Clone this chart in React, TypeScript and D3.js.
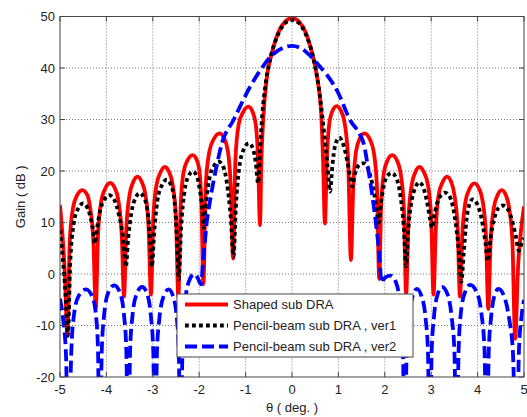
import React from "react";
import * as d3 from "d3";

// gain patterns: [theta (deg), gain (dB)]
const shaped: [number, number][] = [
  [-5.0, 13.4], [-4.95, 8], [-4.9, 1], [-4.84, -12],
  [-4.79, 6.3], [-4.72, 12.8], [-4.63, 15.3], [-4.52, 16.3], [-4.41, 15.3], [-4.35, 12.8], [-4.28, 6.3], [-4.23, -6.8],
  [-4.18, 7.7], [-4.11, 14.2], [-4.02, 16.7], [-3.92, 17.7], [-3.82, 16.7], [-3.74, 14.2], [-3.67, 7.7], [-3.62, -4.4],
  [-3.57, 8.9], [-3.5, 15.4], [-3.42, 17.9], [-3.33, 18.9], [-3.24, 17.9], [-3.16, 15.4], [-3.09, 8.9], [-3.04, -4],
  [-2.99, 10.8], [-2.92, 17.3], [-2.83, 19.8], [-2.74, 20.8], [-2.65, 19.8], [-2.57, 17.3], [-2.5, 10.8], [-2.45, -4.5],
  [-2.4, 13], [-2.34, 19.6], [-2.25, 22.1], [-2.14, 23.1], [-2.05, 22.1], [-1.99, 19.6], [-1.95, 13], [-1.91, -2],
  [-1.86, 17], [-1.78, 23.8], [-1.68, 26.3], [-1.56, 27.3], [-1.46, 26.3], [-1.38, 23.8], [-1.32, 17], [-1.27, 3],
  [-1.22, 22], [-1.15, 29], [-1.05, 31.5], [-0.94, 32.5], [-0.85, 31.5], [-0.78, 29], [-0.73, 22], [-0.69, 9.5],
  [-0.66, 22], [-0.62, 30], [-0.54, 38.3], [-0.43, 43], [-0.3, 46.8], [-0.15, 49], [0, 49.7], [0.15, 49],
  [0.3, 46.8], [0.43, 43], [0.54, 38.3], [0.63, 31], [0.67, 22], [0.71, 9.8],
  [0.75, 22], [0.8, 29], [0.87, 31.6], [0.96, 32.6], [1.06, 31.6], [1.14, 29], [1.21, 22], [1.27, 2.7],
  [1.32, 17], [1.38, 23.8], [1.46, 26.3], [1.56, 27.3], [1.67, 26.3], [1.76, 23.8], [1.83, 17], [1.88, -1],
  [1.92, 13], [1.98, 19.6], [2.06, 22.1], [2.16, 23.1], [2.26, 22.1], [2.34, 19.6], [2.41, 13], [2.46, -4],
  [2.51, 10.8], [2.58, 17.3], [2.66, 19.8], [2.75, 20.8], [2.84, 19.8], [2.93, 17.3], [3.0, 10.8], [3.05, -4],
  [3.1, 8.9], [3.16, 15.4], [3.25, 17.9], [3.34, 18.9], [3.43, 17.9], [3.5, 15.4], [3.57, 8.9], [3.62, -4.4],
  [3.67, 7.6], [3.74, 14.1], [3.83, 16.6], [3.93, 17.6], [4.03, 16.6], [4.11, 14.1], [4.18, 7.6], [4.23, -6.8],
  [4.28, 6.3], [4.35, 12.8], [4.43, 15.3], [4.52, 16.3], [4.61, 15.3], [4.68, 12.8], [4.75, 6.3], [4.81, -12.6],
  [4.87, 1], [4.93, 8], [5.0, 13.1],
];

const pencilV1: [number, number][] = [
  [-5.0, 8.5], [-4.94, 3], [-4.88, -4], [-4.83, -12],
  [-4.78, 2], [-4.71, 9.5], [-4.61, 12.7], [-4.5, 13.7], [-4.4, 12.7], [-4.33, 10.5], [-4.28, 8], [-4.25, 5.9],
  [-4.2, 9], [-4.13, 12.5], [-4.04, 14.5], [-3.94, 15.3], [-3.83, 14.4], [-3.73, 11.5], [-3.64, 7], [-3.58, 1.4],
  [-3.53, 7], [-3.46, 12], [-3.37, 14.8], [-3.28, 15.7], [-3.19, 14.8], [-3.11, 12], [-3.06, 7], [-3.02, 1.4],
  [-2.97, 8], [-2.9, 14.3], [-2.8, 17.3], [-2.7, 18.3], [-2.61, 17.3], [-2.53, 14], [-2.48, 7], [-2.44, -1],
  [-2.39, 9], [-2.32, 15.8], [-2.23, 19], [-2.14, 19.9], [-2.05, 19], [-1.98, 16], [-1.93, 12.5], [-1.9, 9],
  [-1.85, 14], [-1.77, 19], [-1.68, 21], [-1.58, 21.8], [-1.48, 20.8], [-1.4, 17.5], [-1.32, 11], [-1.26, 3.4],
  [-1.21, 13], [-1.14, 20.5], [-1.03, 24.4], [-0.93, 25.4], [-0.84, 24.3], [-0.78, 21.5], [-0.73, 17.6],
  [-0.69, 24], [-0.64, 31], [-0.56, 37.5], [-0.45, 42.5], [-0.3, 46.5], [-0.15, 48.7], [0, 49.3], [0.15, 48.7],
  [0.3, 46.5], [0.45, 42.3], [0.58, 36], [0.68, 28.5], [0.76, 21.5], [0.82, 16],
  [0.87, 21], [0.93, 25], [1.02, 26.5], [1.11, 25], [1.19, 22], [1.25, 19], [1.3, 17],
  [1.36, 19.5], [1.45, 21.2], [1.54, 21.5], [1.64, 20.5], [1.73, 17.5], [1.81, 13.5], [1.87, 10],
  [1.92, 14], [1.99, 17.6], [2.07, 19.2], [2.15, 19.6], [2.25, 18.6], [2.34, 15], [2.41, 9], [2.46, 1.5],
  [2.51, 9], [2.58, 14.3], [2.66, 16.8], [2.74, 17.8], [2.83, 16.8], [2.91, 14], [2.97, 11], [3.02, 9],
  [3.08, 12], [3.16, 14.5], [3.25, 15.6], [3.3, 15.8], [3.4, 15], [3.5, 11.5], [3.6, 4], [3.65, -1.5],
  [3.7, 4], [3.76, 10.5], [3.83, 13.7], [3.89, 14.5], [3.98, 13.8], [4.08, 11], [4.17, 6], [4.22, 2.5],
  [4.28, 7], [4.36, 10.8], [4.45, 12.8], [4.55, 13.3], [4.65, 12.6], [4.74, 10.5], [4.82, 7.5], [4.89, 4.5],
  [4.95, 6], [5.0, 7],
];

const pencilV2: [number, number][] = [
  [-5.0, -4.8], [-4.93, -9], [-4.87, -16], [-4.82, -40],
  [-4.76, -16], [-4.7, -8], [-4.6, -4.3], [-4.44, -3], [-4.3, -4.5], [-4.22, -8.5], [-4.18, -15], [-4.15, -40],
  [-4.1, -15], [-4.05, -8], [-3.96, -3.6], [-3.83, -2.2], [-3.71, -3.6], [-3.62, -8], [-3.57, -15], [-3.53, -40],
  [-3.49, -15], [-3.44, -8.3], [-3.35, -3.9], [-3.23, -2.5], [-3.12, -3.9], [-3.04, -8.3], [-2.99, -15], [-2.95, -40],
  [-2.91, -15], [-2.86, -8.8], [-2.77, -4.4], [-2.66, -3], [-2.56, -4.4], [-2.48, -8.8], [-2.44, -15], [-2.4, -40],
  [-2.36, -14], [-2.31, -6], [-2.22, -1.4], [-2.11, 0], [-2.03, -0.8], [-1.98, -1.8], [-1.96, -2],
  [-1.92, 2], [-1.88, 6], [-1.84, 9.8], [-1.77, 14], [-1.7, 17.6], [-1.6, 22], [-1.51, 25.4], [-1.26, 29.9],
  [-0.9, 36.4], [-0.68, 39.6], [-0.43, 42.5], [-0.2, 43.9], [0, 44.3], [0.2, 43.8], [0.54, 40.9], [1.0, 35.1],
  [1.25, 29.9], [1.47, 27], [1.54, 25.5], [1.65, 20], [1.75, 14], [1.82, 9], [1.88, 4], [1.93, -1.7],
  [1.96, -1.2], [2.02, -0.6], [2.13, -0.3], [2.24, -1.6], [2.33, -6], [2.39, -14], [2.43, -40],
  [2.47, -15], [2.52, -8.7], [2.6, -4.3], [2.69, -2.9], [2.79, -4.3], [2.88, -8.7], [2.93, -15], [2.97, -40],
  [3.01, -15], [3.06, -8.3], [3.14, -3.9], [3.23, -2.5], [3.35, -3.9], [3.44, -8.3], [3.5, -15], [3.55, -40],
  [3.59, -15], [3.64, -7.5], [3.73, -3.5], [3.84, -2.1], [3.98, -3.5], [4.08, -7.5], [4.15, -15], [4.2, -40],
  [4.24, -15], [4.29, -8.5], [4.36, -4.3], [4.45, -2.9], [4.57, -4.3], [4.68, -8.7], [4.76, -15], [4.84, -40],
  [4.89, -15], [4.95, -8], [5.0, -5],
];

const xTicks = [-5, -4, -3, -2, -1, 0, 1, 2, 3, 4, 5];
const yTicks = [-20, -10, 0, 10, 20, 30, 40, 50];
const legendLabels = ["Shaped sub DRA", "Pencil-beam sub DRA , ver1", "Pencil-beam sub DRA , ver2"];

const W = 527, H = 417;
const m = { l: 60, r: 3, t: 16.5, b: 40 };
const FONT = "'Liberation Sans', Arial, sans-serif";

export default function App() {
  const x = d3.scaleLinear().domain([-5, 5]).range([m.l, W - m.r]);
  const y = d3.scaleLinear().domain([-20, 50]).range([H - m.b, m.t]);
  const line = d3.line<[number, number]>().x((d) => x(d[0])).y((d) => y(d[1])).curve(d3.curveMonotoneX);

  const series = [
    { data: shaped, color: "#ff0000", dash: undefined },
    { data: pencilV1, color: "#000000", dash: "3.8 3.2" },
    { data: pencilV2, color: "#0000ff", dash: "12 5" },
  ];

  const [x0, x1] = x.range();
  const [y0, y1] = y.range();
  const lg = { x: 177, y: 294, w: 236, h: 63 };

  return (
    <svg width={W} height={H} style={{ position: "absolute", left: 0, top: 0, background: "#fff" }} fontFamily={FONT}>
      <defs>
        <clipPath id="plot">
          <rect x={x0} y={y1} width={x1 - x0} height={y0 - y1} />
        </clipPath>
      </defs>
      <rect x={x0} y={y1} width={x1 - x0} height={y0 - y1} fill="#fff" />
      {/* grid */}
      <g stroke="#777" strokeWidth={1} strokeDasharray="1 2">
        {xTicks.slice(1, -1).map((t) => (
          <line key={"gx" + t} x1={x(t)} x2={x(t)} y1={y1} y2={y0} />
        ))}
        {yTicks.slice(1, -1).map((t) => (
          <line key={"gy" + t} x1={x0} x2={x1} y1={y(t)} y2={y(t)} />
        ))}
      </g>
      <g clipPath="url(#plot)" fill="none" strokeWidth={3.8}>
        {series.map((s, i) => (
          <path key={i} d={line(s.data) || ""} stroke={s.color} strokeDasharray={s.dash} strokeLinejoin="round" />
        ))}
      </g>
      {/* box and ticks */}
      <rect x={x0} y={y1} width={x1 - x0} height={y0 - y1} fill="none" stroke="#444" strokeWidth={1} />
      <g stroke="#444" strokeWidth={1}>
        {xTicks.map((t) => (
          <g key={"tx" + t}>
            <line x1={x(t)} x2={x(t)} y1={y0} y2={y0 - 5} />
            <line x1={x(t)} x2={x(t)} y1={y1} y2={y1 + 5} />
          </g>
        ))}
        {yTicks.map((t) => (
          <g key={"ty" + t}>
            <line x1={x0} x2={x0 + 5} y1={y(t)} y2={y(t)} />
            <line x1={x1} x2={x1 - 5} y1={y(t)} y2={y(t)} />
          </g>
        ))}
      </g>
      <g fontSize={13} fill="#222">
        {xTicks.map((t) => (
          <text key={"lx" + t} x={x(t)} y={y0 + 17} textAnchor="middle">{t}</text>
        ))}
        {yTicks.map((t) => (
          <text key={"ly" + t} x={x0 - 5} y={y(t) + 4.5} textAnchor="end">{t}</text>
        ))}
      </g>
      <text x={(x0 + x1) / 2} y={412} textAnchor="middle" fontSize={13} fill="#222">θ ( deg. )</text>
      <text transform={`translate(25,${(y0 + y1) / 2}) rotate(-90)`} textAnchor="middle" fontSize={13} fill="#222">Gain ( dB )</text>
      {/* legend */}
      <g>
        <rect x={lg.x} y={lg.y} width={lg.w} height={lg.h} fill="#fff" stroke="#444" strokeWidth={1} />
        {series.map((s, i) => (
          <g key={"lg" + i}>
            <line x1={lg.x + 8} x2={lg.x + 51} y1={lg.y + 10.5 + i * 21} y2={lg.y + 10.5 + i * 21}
              stroke={s.color} strokeWidth={3.8} strokeDasharray={s.dash} />
            <text x={lg.x + 56} y={lg.y + 15 + i * 21} fontSize={13} fill="#222">{legendLabels[i]}</text>
          </g>
        ))}
      </g>
    </svg>
  );
}
